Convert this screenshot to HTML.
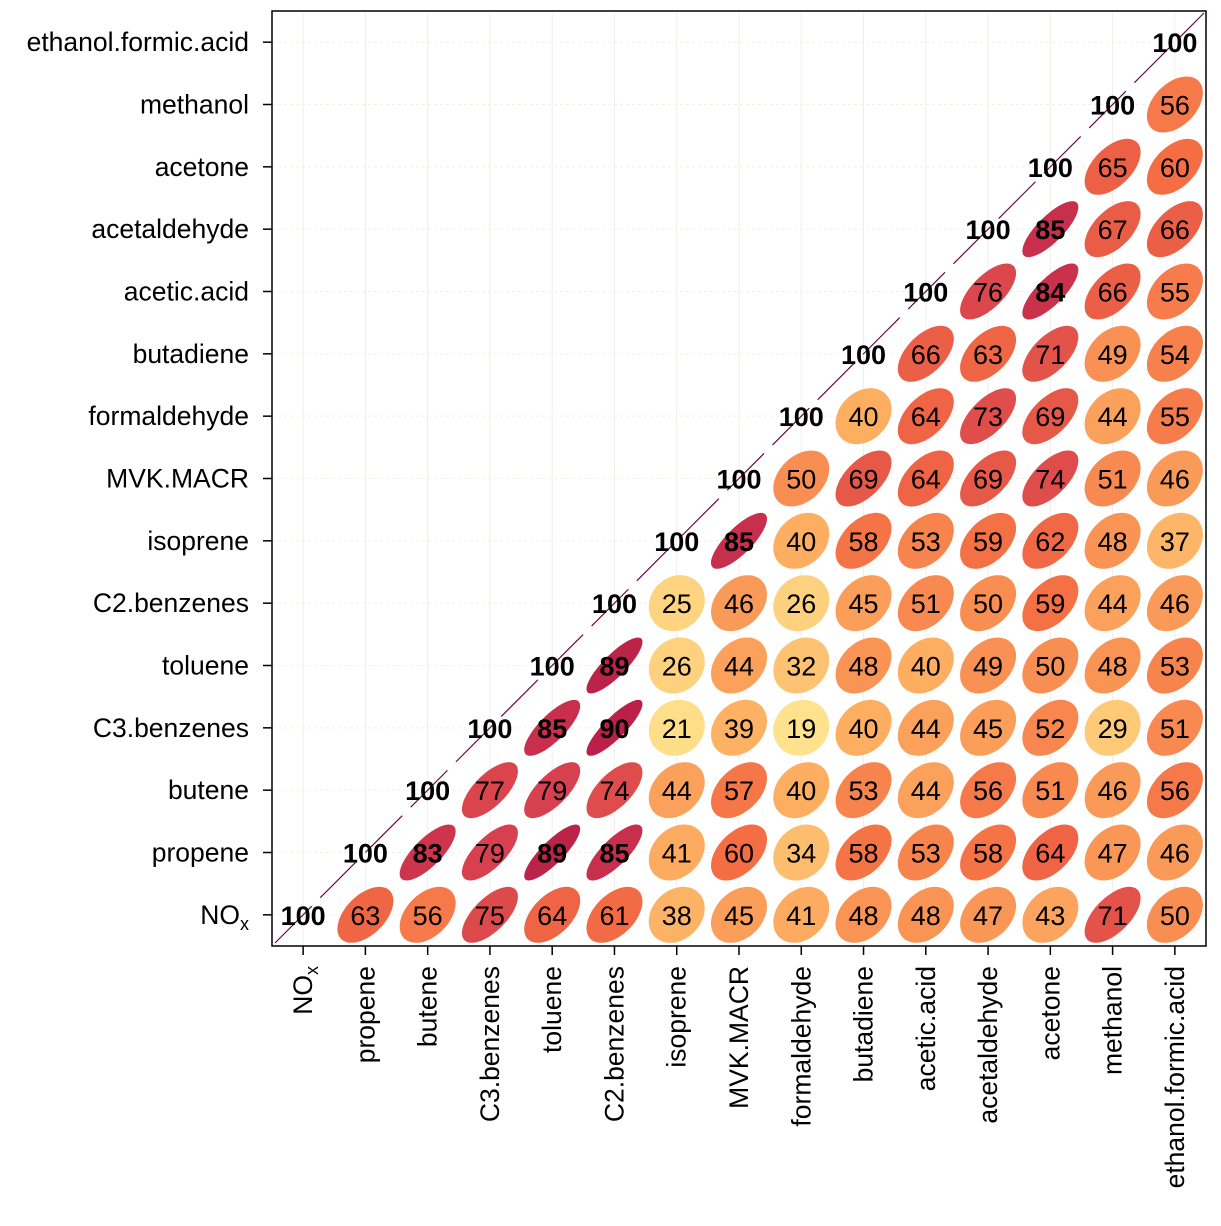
<!DOCTYPE html>
<html><head><meta charset="utf-8"><style>
body{margin:0;background:#fff}
svg text{font-family:"Liberation Sans",Arial,sans-serif}
</style></head><body>
<svg id="chart" width="1221" height="1221" xmlns="http://www.w3.org/2000/svg"></svg>
<script>
const categories=["NOx","propene","butene","C3.benzenes","toluene","C2.benzenes","isoprene","MVK.MACR","formaldehyde","butadiene","acetic.acid","acetaldehyde","acetone","methanol","ethanol.formic.acid"];
const rowNOx=[100,63,56,75,64,61,38,45,41,48,48,47,43,71,50];
const rowPropene=[100,83,79,89,85,41,60,34,58,53,58,64,47,46];
const rowButene=[100,77,79,74,44,57,40,53,44,56,51,46,56];
const rowC3=[100,85,90,21,39,19,40,44,45,52,29,51];
const rowToluene=[100,89,26,44,32,48,40,49,50,48,53];
const rowC2=[100,25,46,26,45,51,50,59,44,46];
const rowIsoprene=[100,85,40,58,53,59,62,48,37];
const rowMVK=[100,50,69,64,69,74,51,46];
const rowFormaldehyde=[100,40,64,73,69,44,55];
const rowButadiene=[100,66,63,71,49,54];
const rowAcetic=[100,76,84,66,55];
const rowAcetaldehyde=[100,85,67,66];
const rowAcetone=[100,65,60];
const rowMethanol=[100,56];
const rowEthanol=[100];
const rows=[rowNOx,rowPropene,rowButene,rowC3,rowToluene,rowC2,rowIsoprene,rowMVK,rowFormaldehyde,rowButadiene,rowAcetic,rowAcetaldehyde,rowAcetone,rowMethanol,rowEthanol];

const NS="http://www.w3.org/2000/svg";
const svg=document.getElementById('chart');
const L=272,T=11,R=1206,B=946,n=categories.length,cw=(R-L)/n,ch=(B-T)/n;
const xs=j=>L+cw*(j+0.5);
const ys=i=>B-ch*(i+0.5);
function mk(tag,attrs,parent){const e=document.createElementNS(NS,tag);for(const k in attrs)e.setAttribute(k,attrs[k]);(parent||svg).appendChild(e);return e;}
const pal=[[255,255,191],[254,224,139],[253,174,97],[244,109,67],[213,62,79],[158,1,66]];
function col(v){const t=Math.max(0,Math.min(1,v))*5;const k=Math.min(4,Math.floor(t));const f=t-k;const a=pal[k],b=pal[k+1];return `rgb(${a.map((c,q)=>Math.round(c+(b[q]-c)*f)).join(',')})`;}
for(let j=0;j<n;j++){
  let g=mk('line',{x1:xs(j),x2:xs(j),y1:T,y2:B,stroke:'#f1efe8','stroke-width':1});
  
  g=mk('line',{x1:L,x2:R,y1:ys(j),y2:ys(j),stroke:'#f1efe8','stroke-width':1,'stroke-dasharray':'3 3'});
  
}
const dg=mk('line',{x1:L+3,y1:B-3,x2:R-2,y2:T+2,stroke:'#6a0a45','stroke-width':1.2,'stroke-dasharray':'52 12'});

const S=28;
rows.forEach((vals,i)=>{
  vals.forEach((v,k)=>{
    const j=i+k,cx=xs(j),cy=ys(i),r=v/100;
    if(v<100){
      const d=Math.acos(Math.pow(r,1.5));let pts=[];
      for(let a=0;a<64;a++){const t=a/64*2*Math.PI;pts.push((cx+S*Math.cos(t+d/2)).toFixed(1)+','+(cy-S*Math.cos(t-d/2)).toFixed(1));}
      const p=mk('polygon',{points:pts.join(' '),fill:col(r)});
      
      
    }
    const tx=mk('text',{x:cx,y:cy+10,'text-anchor':'middle','font-size':27,'font-weight':v>=80?'bold':'normal',fill:'#000'});
    tx.textContent=v;
    
    
  });
});
const fr=mk('rect',{x:L,y:T,width:R-L,height:B-T,fill:'none',stroke:'#000','stroke-width':1.5});

categories.forEach((c,i)=>{
  let tk=mk('line',{x1:L-9,x2:L,y1:ys(i),y2:ys(i),stroke:'#000','stroke-width':1.5});
  
  tk=mk('line',{x1:xs(i),x2:xs(i),y1:B,y2:B+9,stroke:'#000','stroke-width':1.5});
  
  const yl=mk('text',{x:L-23,y:ys(i)+9,'text-anchor':'end','font-size':26.5});
  
  const xl=mk('text',{transform:`translate(${xs(i)+9},${B+20}) rotate(-90)`,'text-anchor':'end','font-size':26.5});
  
  if(c==='NOx'){
    yl.innerHTML='NO<tspan font-size="18" dy="6">x</tspan>';
    xl.innerHTML='NO<tspan font-size="18" dy="6">x</tspan>';
  }else{yl.textContent=c;xl.textContent=c;}
});
</script>
</body></html>
